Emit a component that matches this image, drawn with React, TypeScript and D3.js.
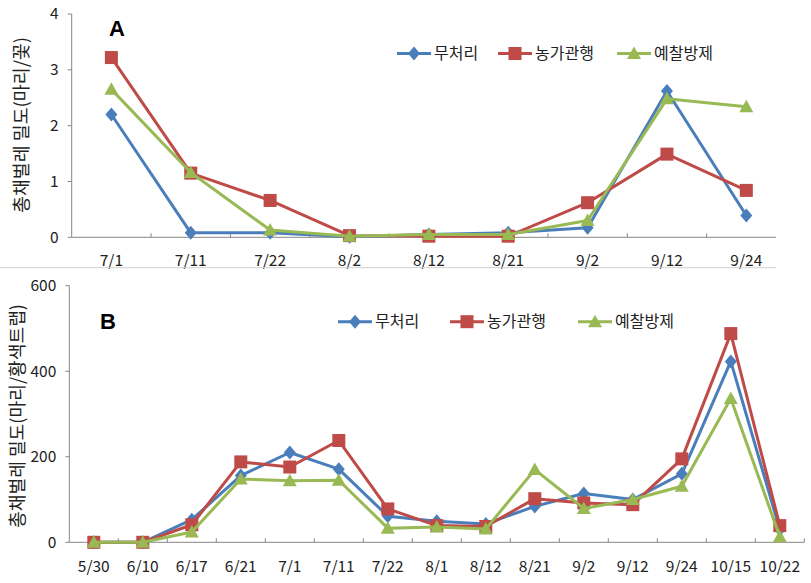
import React from "react";
import * as d3 from "d3";

const seriesNames = ["무처리", "농가관행", "예찰방제"];
const colors = ["#4A7EBB", "#BE4B48", "#98B954"];
const markers = ["diamond", "square", "triangle"];

const datesA = ["7/1", "7/11", "7/22", "8/2", "8/12", "8/21", "9/2", "9/12", "9/24"];
const a무처리 = [2.2, 0.08, 0.08, 0.01, 0.05, 0.08, 0.17, 2.62, 0.39];
const a농가관행 = [3.22, 1.15, 0.66, 0.03, 0.02, 0.02, 0.62, 1.49, 0.84];
const a예찰방제 = [2.65, 1.16, 0.13, 0.02, 0.05, 0.05, 0.3, 2.48, 2.34];
const ticksA = [0, 1, 2, 3, 4];

const datesB = ["5/30", "6/10", "6/17", "6/21", "7/1", "7/11", "7/22", "8/1", "8/12", "8/21", "9/2", "9/12", "9/24", "10/15", "10/22"];
const b무처리 = [0, 0, 53, 156, 210, 171, 61, 49, 43, 84, 114, 100, 160, 423, 30];
const b농가관행 = [0, 0, 41, 188, 176, 238, 78, 39, 37, 102, 92, 88, 195, 488, 39];
const b예찰방제 = [0, 0, 24, 148, 144, 145, 33, 36, 31, 170, 79, 100, 131, 336, 13];
const ticksB = [0, 200, 400, 600];

const FONT = "'Noto Sans CJK KR', 'Noto Sans', sans-serif";
const AXIS = "#868686";

function Marker({ type, x, y, color }: { type: string; x: number; y: number; color: string }) {
  if (type === "diamond") {
    return <path d={`M${x},${y - 7}L${x + 6},${y}L${x},${y + 7}L${x - 6},${y}Z`} fill={color} />;
  }
  if (type === "square") {
    return <rect x={x - 6.5} y={y - 6.5} width={13} height={13} fill={color} />;
  }
  return <path d={`M${x},${y - 7}L${x + 7},${y + 5.5}L${x - 7},${y + 5.5}Z`} fill={color} />;
}

function Panel(props: {
  dates: string[];
  series: number[][];
  ticks: number[];
  xRange: [number, number];
  axisEnd: number;
  yDomain: [number, number];
  yRange: [number, number];
  title: string;
  titleX: number;
  titleY: number;
  titleLen: number;
  letter: string;
  letterX: number;
  letterY: number;
  legendX: number[];
  legendY: number;
  labelY: number;
}) {
  const x = d3.scaleBand<string>().domain(props.dates).range(props.xRange).padding(0);
  const y = d3.scaleLinear().domain(props.yDomain).range(props.yRange);
  const cx = (d: string) => (x(d) as number) + x.bandwidth() / 2;
  const line = d3
    .line<number>()
    .x((_, i) => cx(props.dates[i]))
    .y((v) => y(v));
  const x0 = props.xRange[0];
  const y0 = y(0);
  const boundaries = props.dates.map((_, i) => x0 + (i + 1) * x.bandwidth());
  return (
    <g>
      <line x1={x0} x2={x0} y1={y(props.yDomain[1])} y2={y0} stroke={AXIS} strokeWidth={1} />
      <line x1={x0} x2={props.axisEnd} y1={y0} y2={y0} stroke={AXIS} strokeWidth={1} />
      {props.ticks.map((t) => (
        <g key={t}>
          <line x1={x0 - 4} x2={x0} y1={y(t)} y2={y(t)} stroke={AXIS} />
          <text x={x0 - 13} y={y(t)} dy="0.35em" textAnchor="end" fontSize={15.5} fontFamily={FONT} fill="#222">
            {t}
          </text>
        </g>
      ))}
      {boundaries
        .filter((b) => b <= props.axisEnd + 0.5)
        .map((b, i) => (
          <line key={i} x1={b} x2={b} y1={y0 - 4} y2={y0} stroke={AXIS} />
        ))}
      {props.dates.map((d) => (
        <text key={d} x={cx(d)} y={props.labelY} dy="0.35em" textAnchor="middle" fontSize={15.5} fontFamily={FONT} fill="#222">
          {d}
        </text>
      ))}
      <text
        transform={`translate(${props.titleX},${props.titleY}) rotate(-90)`}
        textAnchor="middle"
        dy="0.35em"
        fontSize={18}
        fontFamily={FONT}
        fill="#222"
        textLength={props.titleLen}
        lengthAdjust="spacingAndGlyphs"
      >
        {props.title}
      </text>
      <text x={props.letterX} y={props.letterY} textAnchor="middle" fontSize={22} fontWeight="bold" fontFamily="'Liberation Sans', Arial, sans-serif" fill="#000">
        {props.letter}
      </text>
      {props.series.map((vals, si) => (
        <g key={si}>
          <path d={line(vals) || ""} fill="none" stroke={colors[si]} strokeWidth={3} strokeLinejoin="round" />
          {vals.map((v, i) => (
            <Marker key={i} type={markers[si]} x={cx(props.dates[i])} y={y(v)} color={colors[si]} />
          ))}
        </g>
      ))}
      {seriesNames.map((n, si) => {
        const lx = props.legendX[si];
        return (
          <g key={n}>
            <line x1={lx} x2={lx + 34} y1={props.legendY} y2={props.legendY} stroke={colors[si]} strokeWidth={3} />
            <Marker type={markers[si]} x={lx + 17} y={props.legendY} color={colors[si]} />
            <text x={lx + 37} y={props.legendY} dy="0.35em" fontSize={16} fontFamily={FONT} fill="#222">
              {n}
            </text>
          </g>
        );
      })}
    </g>
  );
}

export default function App() {
  return (
    <svg width={811} height={583} style={{ position: "absolute", left: 0, top: 0, background: "#fff" }}>
      <rect x={0} y={0} width={811} height={583} fill="#fff" />
      <Panel
        dates={datesA}
        series={[a무처리, a농가관행, a예찰방제]}
        ticks={ticksA}
        xRange={[71.7, 786]}
        axisEnd={776}
        yDomain={[0, 4]}
        yRange={[237.3, 14]}
        title="총채벌레 밀도(마리/꽃)"
        titleX={22}
        titleY={125}
        titleLen={176}
        letter="A"
        letterX={117}
        letterY={36}
        legendX={[397, 498, 617]}
        legendY={53.5}
        labelY={261}
      />
      <line x1={0} x2={776} y1={267.7} y2={267.7} stroke="#D0D0D0" strokeWidth={1} />
      <Panel
        dates={datesB}
        series={[b무처리, b농가관행, b예찰방제]}
        ticks={ticksB}
        xRange={[69.3, 804.3]}
        axisEnd={804.3}
        yDomain={[0, 600]}
        yRange={[542.3, 285.7]}
        title="총채벌레 밀도(마리/황색트랩)"
        titleX={18}
        titleY={416}
        titleLen={224}
        letter="B"
        letterX={108}
        letterY={329}
        legendX={[338, 450, 578]}
        legendY={321.7}
        labelY={566.5}
      />
    </svg>
  );
}
